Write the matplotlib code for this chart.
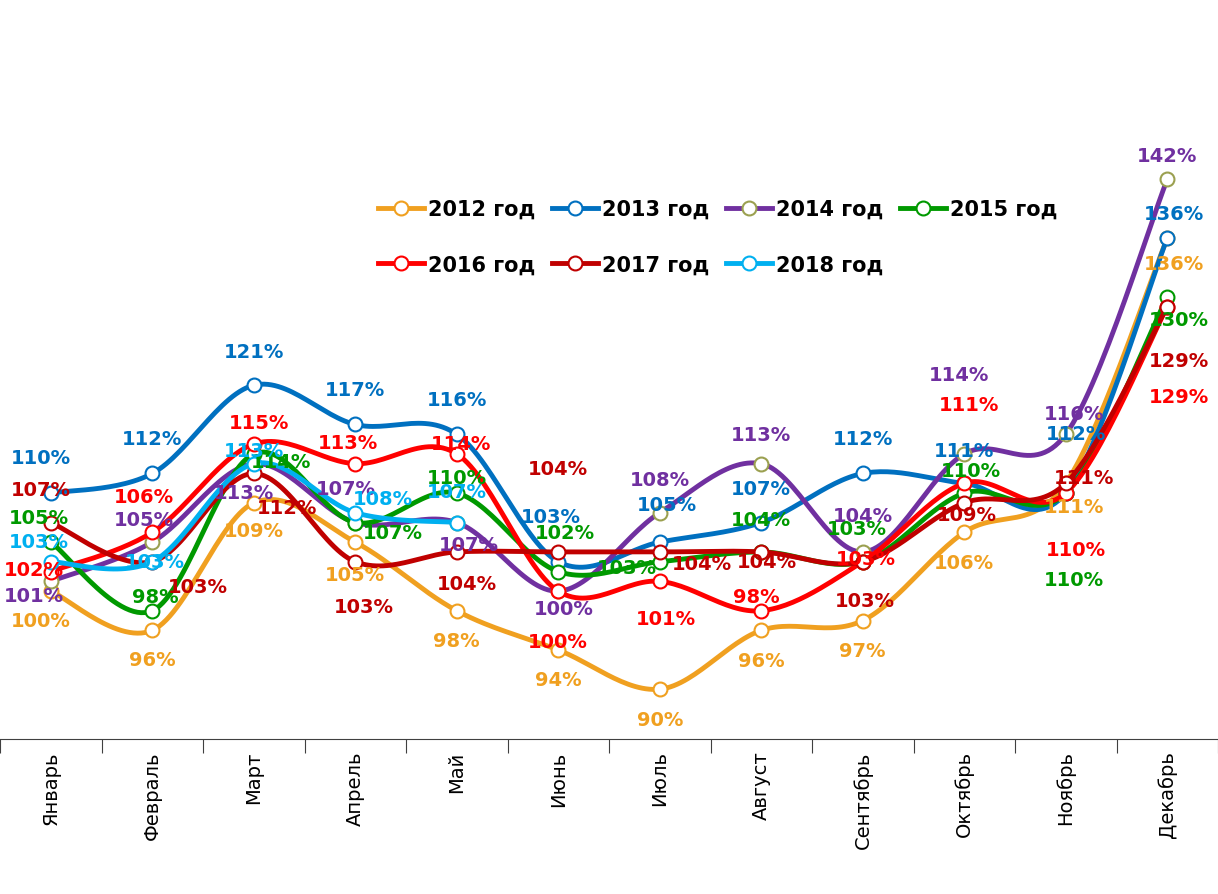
import numpy as np
import matplotlib
matplotlib.use("Agg")
import matplotlib.pyplot as plt

months = ["Январь","Февраль","Март","Апрель","Май","Июнь","Июль","Август","Сентябрь","Октябрь","Ноябрь","Декабрь"]
y2012 = [100, 96, 109, 105, 98, 94, 90, 96, 97, 106, 111, 136]
y2013 = [110, 112, 121, 117, 116, 103, 105, 107, 112, 111, 110, 136]
y2014 = [101, 105, 113, 107, 107, 100, 108, 113, 104, 114, 116, 142]
y2015 = [105, 98, 114, 107, 110, 102, 103, 104, 103, 110, 110, 130]
y2016 = [102, 106, 115, 113, 114, 100, 101, 98, 103, 111, 110, 129]
y2017 = [107, 103, 112, 103, 104, 104, 104, 104, 103, 109, 111, 129]
y2018 = [103, 103, 113, 108, 107]
lab2013 = [110, 112, 121, 117, 116, 103, 105, 107, 112, 111, 112, 136]

# label offsets in pixels (dx, dy up)
o2012 = [(-10,-29),(0,-29),(0,-28),(0,-32),(0,-30),(0,-30),(0,-30),(0,-30),(0,-30),(0,-30),(8,-23),(7,-25)]
o2013 = [(-10,36),(0,35),(0,34),(0,35),(0,35),(-7,45),(7,38),(0,34),(0,35),(0,33),(10,60),(7,25)]
o2014 = [(-17,-14),(-8,23),(-10,-29),(-9,34),(12,-22),(6,-17),(0,33),(0,29),(0,36),(-5,79),(8,21),(0,24)]
o2015 = [(-12,25),(3,14),(27,-8),(38,-10),(0,16),(7,39),(-33,-6),(0,32),(-6,33),(7,23),(8,-86),(12,-22)]
o2016 = [(-17,2),(-8,36),(5,22),(-7,21),(4,10),(0,-50),(6,-37),(-5,14),(3,3),(5,79),(10,-56),(12,-90)]
o2017 = [(-10,33),(46,-25),(33,-34),(9,-45),(10,-32),(0,83),(42,-12),(6,-10),(2,-39),(3,-12),(18,6),(12,-54)]
o2018 = [(-12,20),(3,0),(0,13),(28,14),(0,31)]

series = [
    ("2012 год", y2012, y2012, "#F0A020", "#F0A020", o2012),
    ("2013 год", y2013, lab2013, "#0070C0", "#0070C0", o2013),
    ("2014 год", y2014, y2014, "#7030A0", "#9BA050", o2014),
    ("2015 год", y2015, y2015, "#009900", "#009900", o2015),
    ("2016 год", y2016, y2016, "#FF0000", "#FF0000", o2016),
    ("2017 год", y2017, y2017, "#C00000", "#C00000", o2017),
    ("2018 год", y2018, y2018, "#00B0F0", "#00B0F0", o2018),
]

def smooth(x, y, n=30):
    x = np.asarray(x, float); y = np.asarray(y, float)
    xs, ys = [], []
    for i in range(len(x) - 1):
        p0 = np.array([x[max(i-1, 0)], y[max(i-1, 0)]])
        p1 = np.array([x[i], y[i]]); p2 = np.array([x[i+1], y[i+1]])
        p3 = np.array([x[min(i+2, len(x)-1)], y[min(i+2, len(x)-1)]])
        c1 = p1 + (p2 - p0) / 6; c2 = p2 - (p3 - p1) / 6
        t = np.linspace(0, 1, n)[:, None]
        pts = (1-t)**3*p1 + 3*(1-t)**2*t*c1 + 3*(1-t)*t**2*c2 + t**3*p2
        xs.extend(pts[:, 0]); ys.extend(pts[:, 1])
    return np.array(xs), np.array(ys)

fig = plt.figure(figsize=(12.18, 8.95), dpi=100)
ax = fig.add_axes([0, 0.173, 1, 0.827])
handles = {}
for name, ys, labs, col, mec, offs in series:
    x = np.arange(len(ys))
    sx, sy = smooth(x, ys)
    ax.plot(sx, sy, color=col, lw=3.5, solid_capstyle="round")
    ax.plot(x, ys, "o", ms=10, mfc="white", mec=mec, mew=1.5)
    h, = ax.plot([], [], "-o", color=col, lw=3.5, ms=10, mfc="white", mec=mec, mew=1.5)
    handles[name] = h
    for xi, yi, li, off in zip(x, ys, labs, offs):
        ax.annotate(f"{li}%", (xi, yi), xytext=off, textcoords="offset pixels",
                    ha="center", va="center", color=col, fontsize=14, fontweight="bold")

ax.set_xlim(-0.5, 11.5)
ax.set_ylim(84.9, 160.4)
ax.set_yticks([])
for s in ["top", "right", "left"]:
    ax.spines[s].set_visible(False)
ax.spines["bottom"].set_color("#404040")
ax.set_xticks(np.arange(-0.5, 12, 1))
ax.set_xticklabels([])
ax.tick_params(axis="x", length=10, color="#404040")
ax.set_xticks(np.arange(12), minor=True)
ax.set_xticklabels(months, minor=True, rotation=90, fontsize=14)
ax.tick_params(axis="x", which="minor", length=0, pad=8)
order = ["2012 год","2016 год","2013 год","2017 год","2014 год","2018 год","2015 год"]
ax.legend([handles[k] for k in order], order, loc="upper left", bbox_to_anchor=(0.295, 0.755),
          ncol=4, frameon=False, prop={"size": 15, "weight": "bold"}, handlelength=2.2,
          columnspacing=0.8, handletextpad=0.2, labelspacing=1.7)
fig.savefig("out.png", dpi=100)
